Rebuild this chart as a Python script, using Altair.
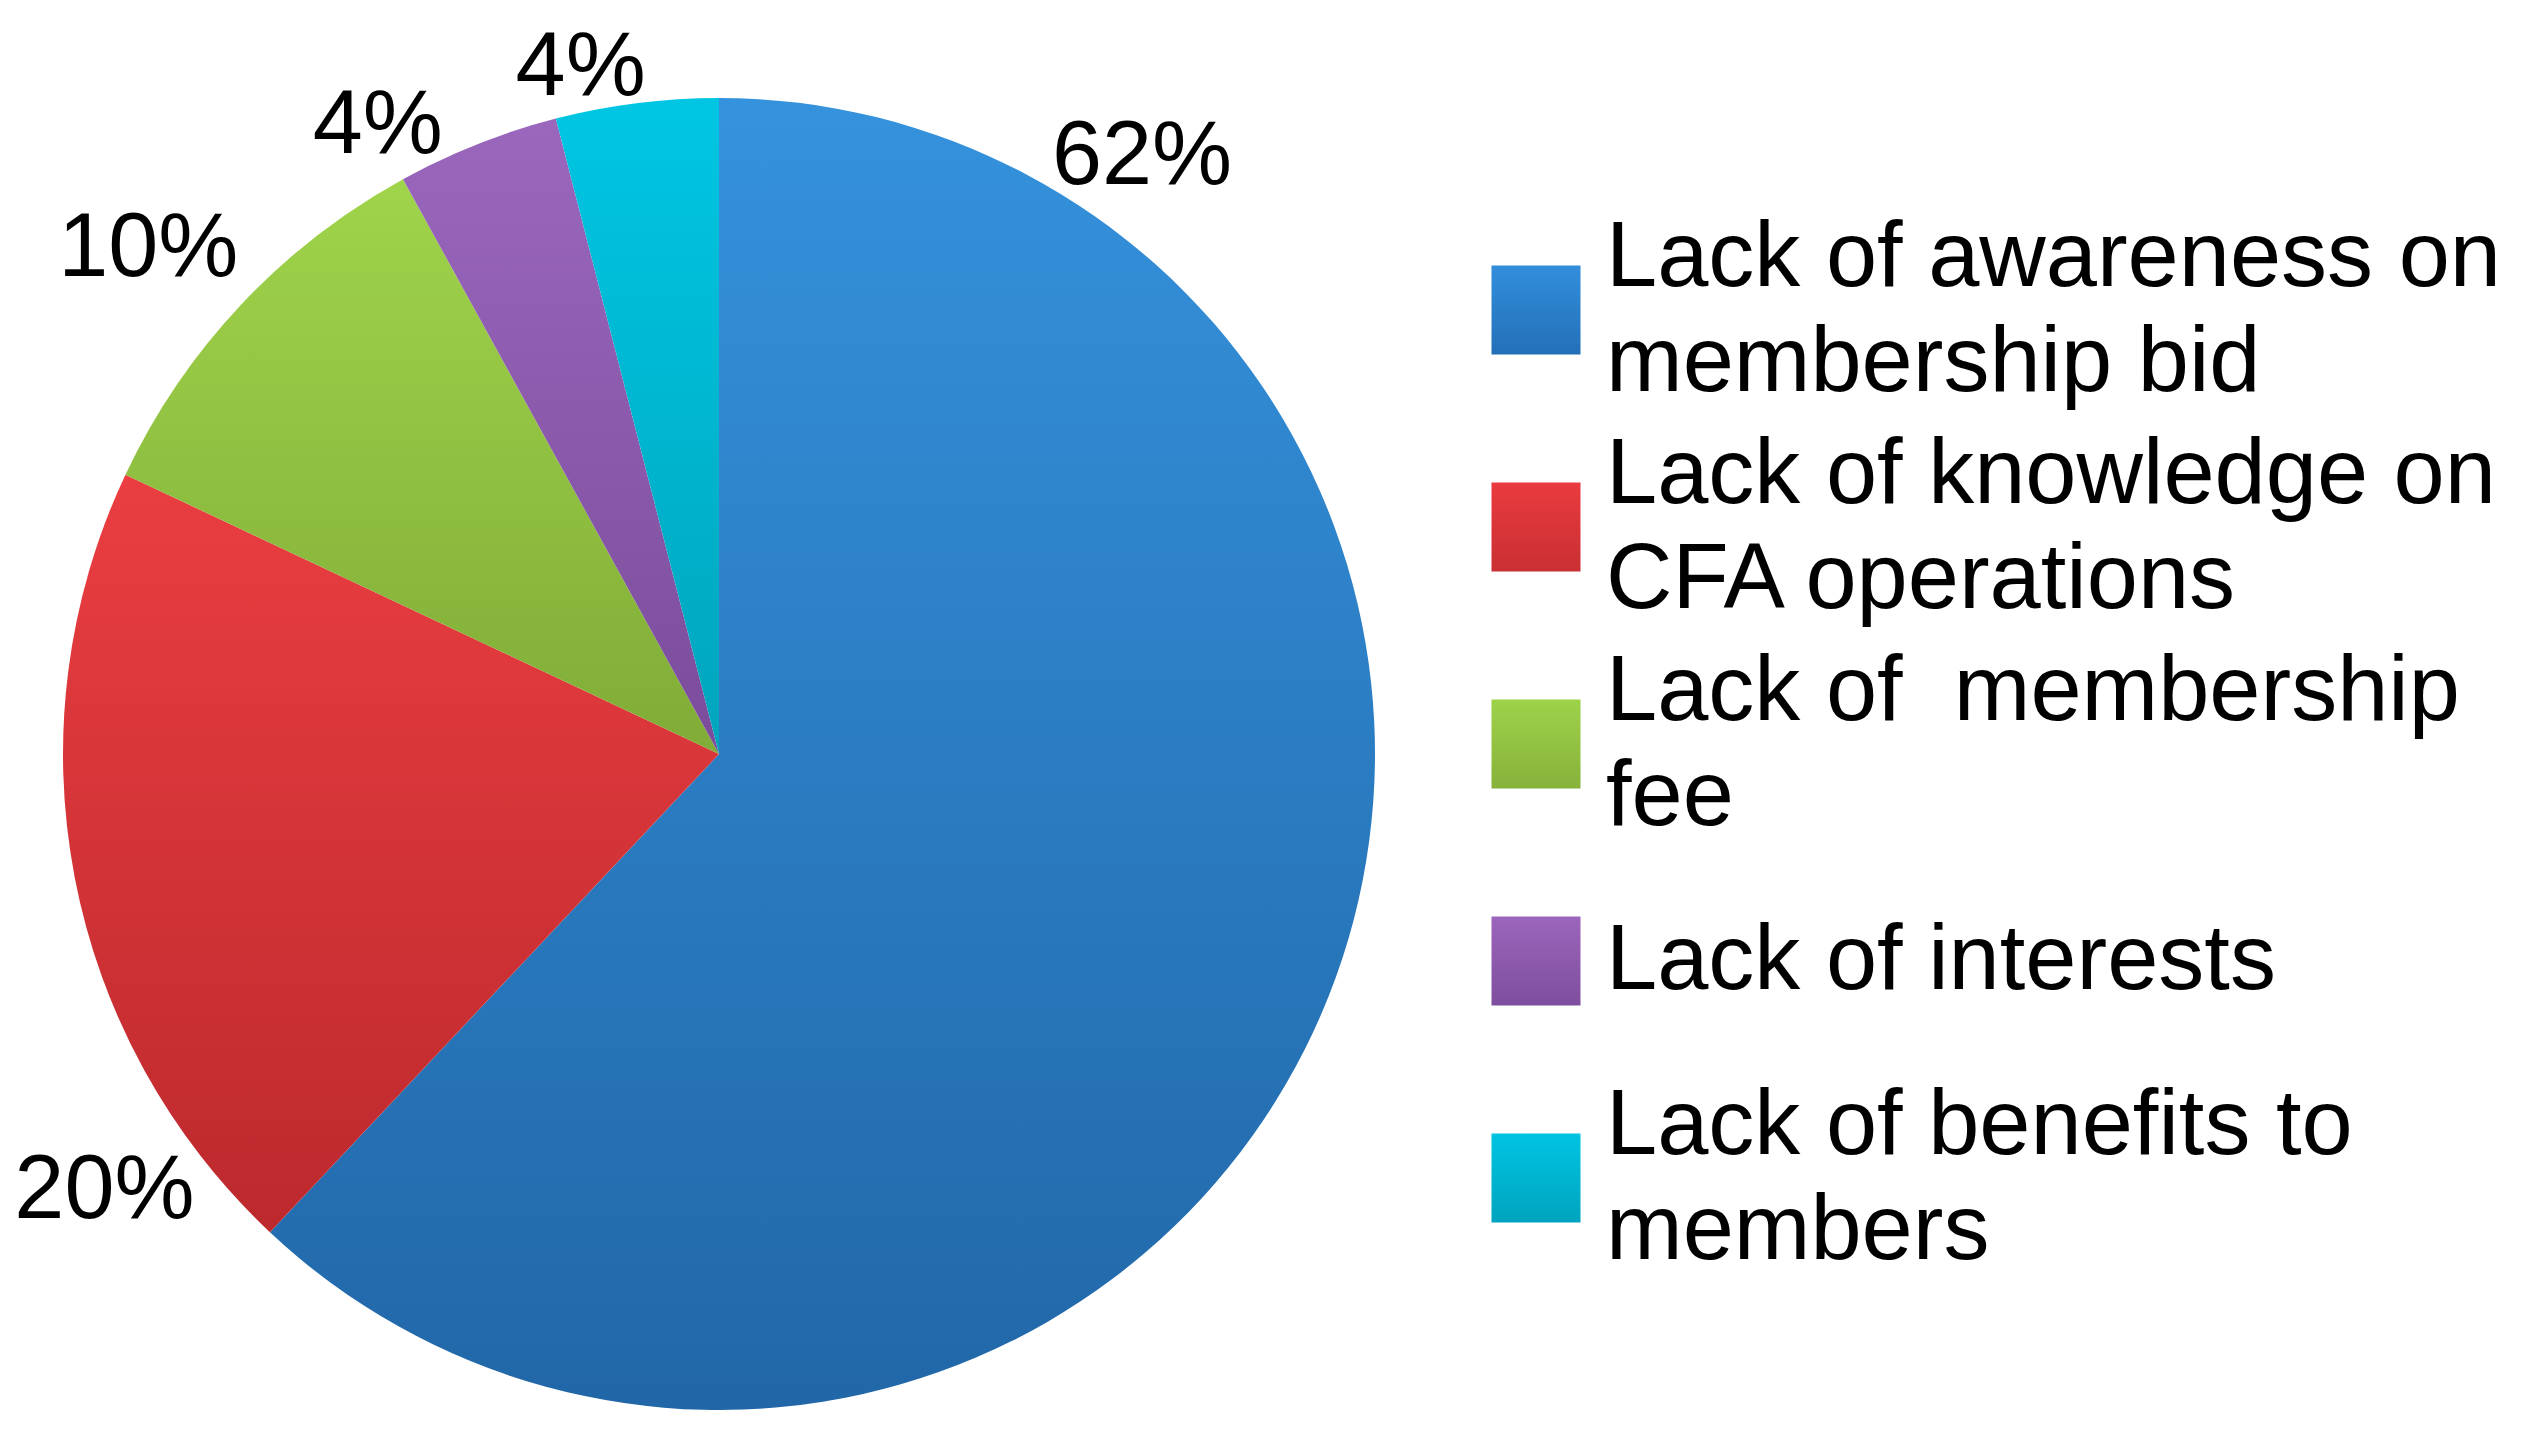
import altair as alt
import pandas as pd

# ---- data ----
categories = [
    "Lack of awareness on membership bid",
    "Lack of knowledge on CFA operations",
    "Lack of  membership fee",
    "Lack of interests",
    "Lack of benefits to members",
]
legend_text = [
    "Lack of awareness on\nmembership bid",
    "Lack of knowledge on\nCFA operations",
    "Lack of\u00a0 membership\nfee",
    "Lack of interests",
    "Lack of benefits to\nmembers",
]
values = [62, 20, 10, 4, 4]
labels = ["62%", "20%", "10%", "4%", "4%"]

# ---- style ----
# (top colour, bottom colour) of each slice's vertical gradient
pie_grad = [
    ("#3592DC", "#2167A8"),
    ("#EA3E41", "#BC292D"),
    ("#A0D44B", "#80AC37"),
    ("#9A67BD", "#7B4C9B"),
    ("#00C6E3", "#00A5BC"),
]
swatch_grad = [
    ("#328EDB", "#2370B8"),
    ("#E93B3F", "#C92F33"),
    ("#9ED24A", "#86B23A"),
    ("#9B66BC", "#7E4E9E"),
    ("#00C4E2", "#00A4BE"),
]
label_angle = [35.3, 234.6, 311.5, 331.5, 348.6]   # degrees clockwise from 12 o'clock
label_dist = [732, 754, 762, 715, 700]             # px from pie centre
CX, CY, R = 711, 746, 656
SW_X, TXT_X = 1528, 1598
LINE_H = 105
ROW_PX = (1170 - 302) / 4
FONT = "Liberation Sans"

df = pd.DataFrame({
    "category": categories,
    "legend": legend_text,
    "value": values,
    "label": labels,
    "idx": list(range(len(categories))),
    "la": label_angle,
    "ld": label_dist,
})

total = sum(values)


def grad(top, bottom):
    return alt.LinearGradient(
        gradient="linear",
        stops=[alt.GradientStop(color=top, offset=0), alt.GradientStop(color=bottom, offset=1)],
        x1=0, x2=0, y1=0, y2=1,
    )


base = alt.Chart(df)
stacked = base.transform_window(
    cum="sum(value)", sort=[alt.SortField("idx", order="ascending")]
).transform_calculate(start="datum.cum - datum.value")

yenc = alt.Y("idx:Q", scale=alt.Scale(domain=[0, 4], range=[302, 1170]), axis=None)

layers = []
for i in range(len(categories)):
    layers.append(
        stacked.transform_filter(f"datum.idx == {i}").mark_arc(
            x=CX, y=CY, outerRadius=R, color=grad(*pie_grad[i])
        ).encode(
            theta=alt.Theta("start:Q", scale=alt.Scale(domain=[0, total])),
            theta2="cum:Q",
        )
    )
for i in range(len(categories)):
    layers.append(
        base.transform_filter(f"datum.idx == {i}").mark_square(
            x=SW_X, size=89 * 89, opacity=1, filled=True, color=grad(*swatch_grad[i])
        ).encode(y=yenc)
    )

pct = base.transform_calculate(ang="datum.la * PI / 180").mark_text(
    x=CX, y=CY, fontSize=90, font=FONT, align="center", baseline="middle", color="black"
).encode(
    theta=alt.Theta("ang:Q", scale=None, stack=False),
    radius=alt.Radius("ld:Q", scale=None),
    text="label:N",
)

legtxt = base.transform_calculate(
    ty=f"datum.idx - (split(datum.legend, '\\n').length - 1) * {LINE_H / 2 / ROW_PX}"
).mark_text(
    x=TXT_X, align="left", baseline="middle", fontSize=92, lineHeight=LINE_H,
    lineBreak="\n", font=FONT, color="black"
).encode(
    y=alt.Y("ty:Q", scale=alt.Scale(domain=[0, 4], range=[302, 1170]), axis=None),
    text="legend:N",
)

layers += [pct, legtxt]

chart = alt.layer(*layers).properties(
    width=2507, height=1420, padding=0,
    autosize=alt.AutoSizeParams(type="none"),
).configure_view(strokeWidth=0)

chart.save("out.html", embed_options={"renderer": "svg", "actions": False})
